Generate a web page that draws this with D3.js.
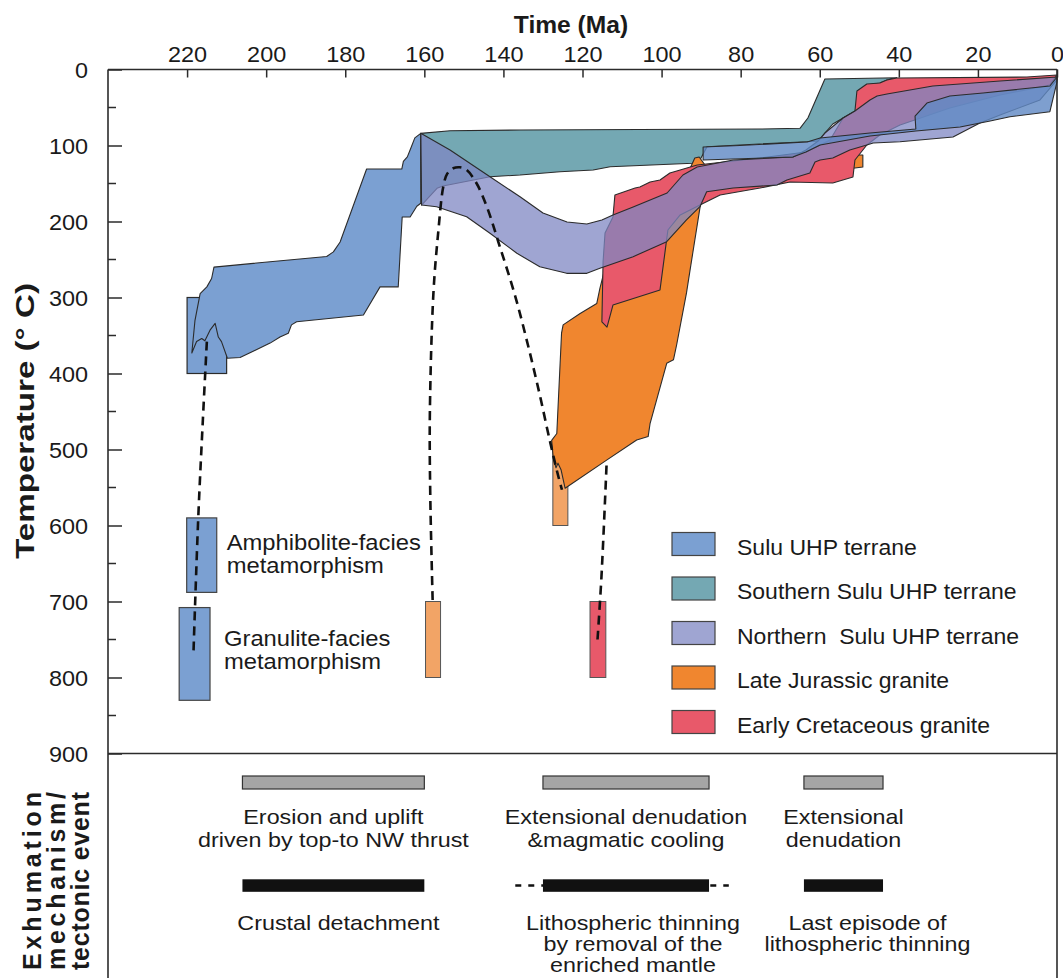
<!DOCTYPE html>
<html>
<head>
<meta charset="utf-8">
<script src="https://cdn.jsdelivr.net/npm/d3@7"></script>
<style>
  body { margin: 0; background: #fff; }
  svg text { font-family: "Liberation Sans", Arial, Helvetica, sans-serif; fill: #1a1a1a; }
</style>
</head>
<body>
<svg id="chart" width="1063" height="978"></svg>
<script>
// ---------- axis ticks ----------
const timeTicks = [220, 200, 180, 160, 140, 120, 100, 80, 60, 40, 20, 0];
const tempTicks = [0, 100, 200, 300, 400, 500, 600, 700, 800, 900];
const tempMinorTicks = [50, 150, 250, 350, 450, 550, 650, 750, 850];

// ---------- legend ----------
const legendKeys = ["Sulu UHP terrane", "Southern Sulu UHP terrane", "Northern  Sulu UHP terrane",
                    "Late Jurassic granite", "Early Cretaceous granite"];
const legendColors = ["#7ba0d2", "#74a8b3", "#9fa5d2", "#f0862f", "#e8596a"];

// ---------- T–t envelopes: [age (Ma), temperature (°C)] ----------
const suluBox = { age: [220, 210], temp: [300, 400] };

const suluWest = [
  [218.8, 373], [218, 330], [216.7, 295], [215, 286], [213.8, 275], [213.2, 260], [184.7, 246],
  [183, 240], [181.3, 227], [174.6, 131], [165.7, 131], [165.3, 121], [164.3, 115], [163.6, 106],
  [162.4, 90], [160.9, 84], [160.9, 176], [161.9, 180], [163.6, 194], [165.6, 194], [166.6, 286],
  [171.2, 286], [175.4, 323], [192.3, 332], [193.6, 336], [194.4, 347], [196.5, 352], [199, 360],
  [206.6, 379], [209.8, 380], [211.3, 358], [212.1, 352], [212.9, 334], [214.2, 343], [215.5, 357],
  [216.3, 354], [217.6, 358]
];

const southernSulu = [
  [160.9, 84], [153.5, 80.5], [135.8, 79.6], [105.5, 78.9], [75.1, 78.3], [65, 77.4], [63, 63.8],
  [58.7, 12.5], [40.5, 10.8], [43, 13.8], [44.8, 17.8], [48.1, 20.4], [50.3, 29.6], [50.8, 54.6],
  [54.1, 63.8], [56.7, 71.7], [58.7, 83.6], [60.4, 94.1], [63.2, 95], [80.2, 99.3], [88.5, 101.6],
  [90.3, 119.1], [92.1, 123.4], [113, 127.9], [117.3, 132.2], [125.7, 134.5], [135.8, 138.8],
  [143.4, 141.1], [155.3, 153.3], [156.8, 156.3], [160.7, 178.3]
];

const lateJurassic = [
  [124.4, 551], [125.4, 527], [126.2, 518], [126.7, 524], [127.4, 511], [127.8, 488], [126.5, 479],
  [125.3, 347], [124.9, 336], [120.6, 321], [116.4, 308], [115.6, 288], [114.1, 257], [105.5, 211],
  [95.3, 159], [91.6, 116.4], [90.5, 115.1], [89, 125.7], [70.1, 121.7], [51.1, 112.5], [49.1, 112.5],
  [49.1, 128.3], [51.1, 129.6], [70.1, 140.1], [88.8, 149.3], [90.3, 182], [92.8, 264], [93.7, 294],
  [96.2, 362.5], [97, 382], [98.7, 386.6], [102.9, 465.5], [103.4, 483], [106.3, 487.5], [113.9, 514]
];

const earlyCretaceous = [
  [111.8, 165], [106.7, 156], [105.5, 154.6], [102.9, 148], [100.4, 145.4], [97.9, 136.2], [95.3, 132.2],
  [93.6, 129.6], [91, 125.7], [75.1, 116.4], [63.5, 108.6], [57.4, 92.8], [54.1, 63.8], [51.1, 54.6],
  [50.6, 28.3], [48.1, 19.1], [44.8, 17.8], [43, 13.8], [40.5, 11.2], [7.6, 9.9], [0, 7.2],
  [1.8, 20.4], [14.4, 33.6], [27.1, 50.7], [39.7, 73], [44.8, 86.2], [48.1, 99.3], [51.1, 119.1],
  [51.6, 141.4], [56.7, 149.3], [67.5, 148], [75.1, 155.9], [85.2, 165.1], [90.3, 178.3], [95.3, 191.4],
  [98.4, 211.2], [100.4, 290], [112.3, 310], [113.8, 339], [115.1, 332], [114.8, 253], [114.3, 215],
  [112.3, 194]
];

const northernSulu = [
  [160.9, 84], [153.5, 105.9], [143.4, 141.1], [135.8, 167.4], [130, 188.8], [123.9, 200.7],
  [118.9, 203.3], [115.1, 198], [112.3, 191.4], [107.2, 180.9], [98.6, 162.5], [94.6, 138.8],
  [91, 128.3], [81.9, 119.1], [66.8, 115.1], [63.5, 105.9], [60.4, 94.1], [58.7, 83.6], [54.1, 63.8],
  [51.1, 54.6], [47.3, 40.1], [45.5, 34.9], [43, 32.2], [31.4, 21.7], [14.4, 15.1], [0, 9.9],
  [0, 13.8], [4.3, 40], [14.4, 60], [19.5, 70.4], [26.3, 88.8], [39.7, 95], [46.5, 96.7], [48.1, 99.3],
  [52.4, 105.9], [56.7, 116.4], [59.9, 119.1], [61.2, 121.7], [62.5, 136.2], [68.3, 145.4],
  [70.8, 152], [81.9, 155.9], [88.6, 160.8], [90.3, 180.5], [93.7, 198], [98.7, 226.6], [107.2, 246.3],
  [115.6, 261.6], [118.9, 268.2], [124, 268.2], [130.8, 259.5], [136.6, 241.8], [143.4, 215.5],
  [149.3, 193.7], [156.9, 180.5], [160.7, 178.3]
];

const suluEast = [
  [89.5, 102], [80.2, 100], [63.2, 95.4], [59.9, 90.1], [47.3, 83.6], [35.7, 78.3], [35.9, 61.2],
  [32.9, 44.1], [27.1, 34.9], [18.7, 30.9], [1.8, 21.7], [0, 9.9],
  [0, 16.4], [1.8, 55.5], [11.9, 62.1], [16.9, 67.8], [24.5, 75.7], [35.7, 80.9], [47.3, 87.5],
  [59.9, 99.3], [63.5, 108.6], [66.8, 115.1], [81.9, 117.8], [89.5, 119.1]
];

// ---------- metamorphic / intrusion age–temperature boxes ----------
const faciesBoxes = [
  { label: ["Amphibolite-facies", "metamorphism"], age: [220.1, 212.5], temp: [590, 688] },
  { label: ["Granulite-facies", "metamorphism"], age: [222.0, 214.2], temp: [708, 830] }
];
const plutonBoxes = [
  { kind: "jurassic", age: [159.7, 155.9], temp: [700, 800] },
  { kind: "cretaceous", age: [118.1, 114.1], temp: [700, 800] },
  { kind: "jurassic", age: [127.5, 123.7], temp: [500, 600] }
];

// ---------- dashed exhumation paths ----------
const pathSulu = [[215, 358], [216, 460], [217.2, 593], [218.4, 770]];
const pathJurassic = [
  [157.9, 698], [158.5, 560], [158.6, 452], [157.7, 294], [156.5, 215], [155.2, 154], [154.2, 137],
  [152.7, 130], [151, 128.7], [149.3, 132.2], [146.8, 149.7], [144.2, 180.5], [140.9, 233.2],
  [137.1, 296.7], [133.8, 362.5], [130.8, 428.3], [128.3, 487.5], [126.2, 533.6], [125.2, 553]
];
const pathCretaceous = [[116.2, 750], [115.2, 667], [113.9, 518]];

// ---------- exhumation mechanisms / tectonic events (Ma) ----------
const mechanismSpans = [[206, 160], [130, 88], [64, 44]];
const mechanismText = [
  ["Erosion and uplift", "driven by top-to NW thrust"],
  ["Extensional denudation", "&magmatic cooling"],
  ["Extensional", "denudation"]
];
const tectonicSpans = [[206, 160], [130, 88], [64, 44]];
const tectonicUncertain = [null, [137, 83], null];
const tectonicText = [
  ["Crustal detachment"],
  ["Lithospheric thinning", "by removal of the", "enriched mantle"],
  ["Last episode of", "lithospheric thinning"]
];

// ================= drawing =================
(function draw() {
const svg = d3.select("#chart");
const H = 978;
const pL = 108, pR = 1057, pT = 69.5, pB = 753.5;

const x = d3.scaleLinear().domain([240, 0]).range([pL, pR]);
const y = d3.scaleLinear().domain([0, 900]).range([pT, pB]);

const ink = "#2b2b2b";

// widen glyphs horizontally by factor k (keeps text as text)
function stretch(sel, k) {
  sel.each(function () {
    const w = this.getComputedTextLength();
    this.setAttribute("textLength", (w * k).toFixed(1));
    this.setAttribute("lengthAdjust", "spacingAndGlyphs");
  });
  return sel;
}

const plot = svg.append("g");

// small age boxes (under the envelopes)
plot.selectAll("rect.pluton").data(plutonBoxes).join("rect")
  .attr("class", "pluton")
  .attr("x", d => x(d.age[0])).attr("width", d => x(d.age[1]) - x(d.age[0]))
  .attr("y", d => y(d.temp[0])).attr("height", d => y(d.temp[1]) - y(d.temp[0]))
  .attr("fill", d => d.kind === "jurassic" ? "#f2a466" : "#e8596a")
  .attr("stroke", "#555").attr("stroke-width", 1);

plot.selectAll("rect.facies").data(faciesBoxes).join("rect")
  .attr("class", "facies")
  .attr("x", d => x(d.age[0])).attr("width", d => x(d.age[1]) - x(d.age[0]))
  .attr("y", d => y(d.temp[0])).attr("height", d => y(d.temp[1]) - y(d.temp[0]))
  .attr("fill", legendColors[0]).attr("stroke", "#444").attr("stroke-width", 1.2);

plot.append("rect")
  .attr("x", x(suluBox.age[0])).attr("width", x(suluBox.age[1]) - x(suluBox.age[0]))
  .attr("y", y(suluBox.temp[0])).attr("height", y(suluBox.temp[1]) - y(suluBox.temp[0]))
  .attr("fill", legendColors[0]).attr("stroke", ink).attr("stroke-width", 1.2);

// envelopes
const area = d3.line().x(d => x(d[0])).y(d => y(d[1]));
const envelopes = [
  { pts: suluWest, fill: "#7ba0d2", op: 1 },
  { pts: southernSulu, fill: "#74a8b3", op: 1 },
  { pts: lateJurassic, fill: "#f0862f", op: 1 },
  { pts: earlyCretaceous, fill: "#e8596a", op: 1 },
  { pts: northernSulu, fill: "#7f87c3", op: 0.75 },
  { pts: suluEast, fill: "#628ac4", op: 0.82 }
];
plot.selectAll("path.env").data(envelopes).join("path")
  .attr("class", "env")
  .attr("d", d => area(d.pts) + "Z")
  .attr("fill", d => d.fill).attr("fill-opacity", d => d.op)
  .attr("stroke", ink).attr("stroke-width", 1.1).attr("stroke-linejoin", "round");

// dashed paths
const dashLine = d3.line().x(d => x(d[0])).y(d => y(d[1])).curve(d3.curveCatmullRom);
[pathSulu, pathJurassic, pathCretaceous].forEach(p => {
  plot.append("path").attr("d", dashLine(p)).attr("fill", "none")
    .attr("stroke", "#111").attr("stroke-width", 2.6).attr("stroke-dasharray", "9,6");
});

// facies annotations
faciesBoxes.forEach((b, i) => {
  const cy = (y(b.temp[0]) + y(b.temp[1])) / 2;
  const tx = x(b.age[1]) + (i === 0 ? 10 : 14);
  b.label.forEach((s, j) => {
    const t = svg.append("text").attr("x", tx).attr("y", cy - 5 + j * 23 - (i === 1 ? 3 : 0))
      .attr("font-size", 22).text(s);
    stretch(t, 1.08);
  });
});

// ---------- legend ----------
const lg = svg.append("g");
legendKeys.forEach((k, i) => {
  const ty = 532.5 + i * 44.5;
  lg.append("rect").attr("x", 672).attr("y", ty).attr("width", 43).attr("height", 23)
    .attr("fill", legendColors[i]).attr("stroke", "#444").attr("stroke-width", 1.2);
  const t = lg.append("text").attr("x", 737).attr("y", ty + 22).attr("font-size", 22)
    .style("white-space", "pre").text(k);
  stretch(t, 1.045);
});

// ---------- axes ----------
const gx = svg.append("g").attr("transform", `translate(0,${pT})`)
  .call(d3.axisTop(x).tickValues(timeTicks).tickSize(-8).tickSizeOuter(0).tickPadding(7.5));
gx.select(".domain").remove();
gx.selectAll("line").attr("stroke", ink).attr("stroke-width", 1.5);
gx.selectAll("text").attr("font-size", 21.5).attr("fill", "#1a1a1a")
  .style("font-family", '"Liberation Sans", Arial, sans-serif');
stretch(gx.selectAll("text"), 1.09);

const gy = svg.append("g").attr("transform", `translate(${pL},0)`)
  .call(d3.axisLeft(y).tickValues(tempTicks).tickSize(-14).tickSizeOuter(0).tickPadding(20));
gy.select(".domain").remove();
gy.selectAll("line").attr("stroke", ink).attr("stroke-width", 1.5);
gy.selectAll("text").attr("font-size", 21.5).attr("fill", "#1a1a1a").attr("dy", "0.36em")
  .style("font-family", '"Liberation Sans", Arial, sans-serif');
stretch(gy.selectAll("text"), 1.09);

svg.append("g").selectAll("line").data(tempMinorTicks).join("line")
  .attr("x1", pL).attr("x2", pL + 8).attr("y1", d => y(d)).attr("y2", d => y(d))
  .attr("stroke", ink).attr("stroke-width", 1.5);

// frame
const frame = svg.append("g").attr("stroke", ink).attr("stroke-width", 1.6);
frame.append("line").attr("x1", pL).attr("x2", pR).attr("y1", pT).attr("y2", pT);
frame.append("line").attr("x1", pL).attr("x2", pL).attr("y1", pT).attr("y2", H);
frame.append("line").attr("x1", pR).attr("x2", pR).attr("y1", pT).attr("y2", H);
frame.append("line").attr("x1", pL).attr("x2", pR).attr("y1", pB).attr("y2", pB);

// axis titles
stretch(svg.append("text").attr("x", 571).attr("y", 33).attr("text-anchor", "middle")
  .attr("font-size", 23).attr("font-weight", "bold").text("Time (Ma)"), 1.07);
svg.append("text").attr("transform", "translate(34,421) rotate(-90)").attr("text-anchor", "middle")
  .attr("font-size", 26).attr("font-weight", "bold")
  .attr("textLength", 276).attr("lengthAdjust", "spacingAndGlyphs")
  .text("Temperature (° C)");

// ---------- lower panel: mechanisms and tectonic events ----------
const low = svg.append("g");
const grayY = 776, grayH = 13, blackY = 879.3, blackH = 12.5;

low.selectAll("rect.mech").data(mechanismSpans).join("rect")
  .attr("class", "mech")
  .attr("x", d => x(d[0])).attr("width", d => x(d[1]) - x(d[0]))
  .attr("y", grayY).attr("height", grayH)
  .attr("fill", "#a5a5a5").attr("stroke", "#333").attr("stroke-width", 1.2);

low.selectAll("line.unc").data(tectonicUncertain.filter(d => d)).join("line")
  .attr("class", "unc")
  .attr("x1", d => x(d[0])).attr("x2", d => x(d[1]))
  .attr("y1", blackY + blackH / 2).attr("y2", blackY + blackH / 2)
  .attr("stroke", "#111").attr("stroke-width", 2.6).attr("stroke-dasharray", "6,7");

low.selectAll("rect.tect").data(tectonicSpans).join("rect")
  .attr("class", "tect")
  .attr("x", d => x(d[0])).attr("width", d => x(d[1]) - x(d[0]))
  .attr("y", blackY).attr("height", blackH)
  .attr("fill", "#111");

const tectShift = [5, 7, 24];
mechanismSpans.forEach((s, i) => {
  const cx = (x(s[0]) + x(s[1])) / 2;
  mechanismText[i].forEach((line, j) => {
    stretch(low.append("text").attr("x", cx).attr("y", 824 + j * 22.5).attr("text-anchor", "middle")
      .attr("font-size", 21).text(line), 1.11);
  });
});
tectonicSpans.forEach((s, i) => {
  const cx = (x(s[0]) + x(s[1])) / 2 + tectShift[i];
  tectonicText[i].forEach((line, j) => {
    stretch(low.append("text").attr("x", cx).attr("y", 929.5 + j * 21).attr("text-anchor", "middle")
      .attr("font-size", 21).text(line), 1.11);
  });
});

// rotated panel title
const panelTitle = ["Exhumation", "mechanism/", "tectonic event"];
const titleX = [41, 65, 89];
panelTitle.forEach((s, i) => {
  svg.append("text").attr("transform", `translate(${titleX[i]},881) rotate(-90)`)
    .attr("text-anchor", "middle").attr("font-size", 25).attr("font-weight", "bold")
    .attr("textLength", 178).attr("lengthAdjust", "spacing").text(s);
});
})();
</script>
</body>
</html>
